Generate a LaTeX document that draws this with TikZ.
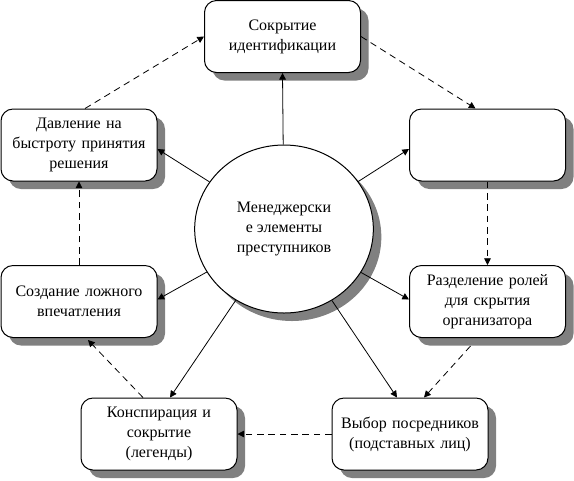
\documentclass[tikz,border=0pt]{standalone}
\usepackage{fontspec}
\setmainfont{Liberation Serif}
\usetikzlibrary{arrows.meta,positioning,calc,shadows,shapes.geometric}
\definecolor{shade}{RGB}{128,128,128}

\begin{document}
\begin{tikzpicture}[x=0.75pt,y=-0.75pt,
  role/.style={draw,line width=0.75pt,rounded corners=9pt,fill=white,
    minimum width=117pt,minimum height=54pt,text width=108pt,align=center,
    font=\fontsize{12}{15}\selectfont,
    drop shadow={shadow xshift=6pt,shadow yshift=-6pt,fill=shade,opacity=1}},
  hub/.style={draw,line width=0.75pt,ellipse,fill=white,
    minimum width=134pt,minimum height=126pt,align=center,
    font=\fontsize{12}{15}\selectfont,
    drop shadow={shadow xshift=6pt,shadow yshift=-6pt,fill=shade,opacity=1}},
  link/.style={line width=0.6pt,-{Triangle[length=5pt,width=5pt]}},
  flow/.style={link,dash pattern=on 5pt off 3.5pt}]
  \useasboundingbox (0,0) rectangle (574,480);
  % boxes round the centre
  \node[role] (hide) at (282.5,36.5) {Сокрытие\\идентификации};
  \node[role] (blank) at (487.5,145) {};
  \node[role] (split) at (487.5,301.5) {Разделение ролей\\для скрытия\\организатора};
  \node[role] (proxy) at (410,434) {Выбор посредников\\(подставных лиц)\\[15pt]};
  \node[role] (legend) at (159,434) {Конспирация и\\сокрытие\\(легенды)};
  \node[role] (fake) at (79,301.5) {Создание ложного\\впечатления};
  \node[role] (rush) at (79,145) {Давление на\\быстроту принятия\\решения};
  \node[hub] (core) at (284,229) {Менеджерски\\е элементы\\преступников};
  % solid arrows from the centre
  \draw[link] (core) -- (hide.south);
  \draw[link] (core) -- ($(blank.west)+(0,4)$);
  \draw[link] (core) -- ($(split.west)+(0,-2)$);
  \draw[link] (core) -- ($(proxy.north)+(-13,0)$);
  \draw[link] (core) -- ($(legend.north)+(11,0)$);
  \draw[link] (core) -- ($(fake.east)+(0,-2)$);
  \draw[link] (core) -- ($(rush.east)+(0,4)$);
  % dashed cycle
  \draw[flow] ($(rush.north)+(6,0)$) -- (hide.west);
  \draw[flow] (hide.east) -- ($(blank.north)+(-12,0)$);
  \draw[flow] (blank.south) -- (split.north);
  \draw[flow] ($(split.south)+(-17,8)$) -- ($(proxy.north)+(14,0)$);
  \draw[flow] (proxy.west) -- (legend.east);
  \draw[flow] ($(legend.north)+(-16,0)$) -- ($(fake.south)+(9,2)$);
  \draw[flow] (fake.north) -- (rush.south);
\end{tikzpicture}
\end{document}
